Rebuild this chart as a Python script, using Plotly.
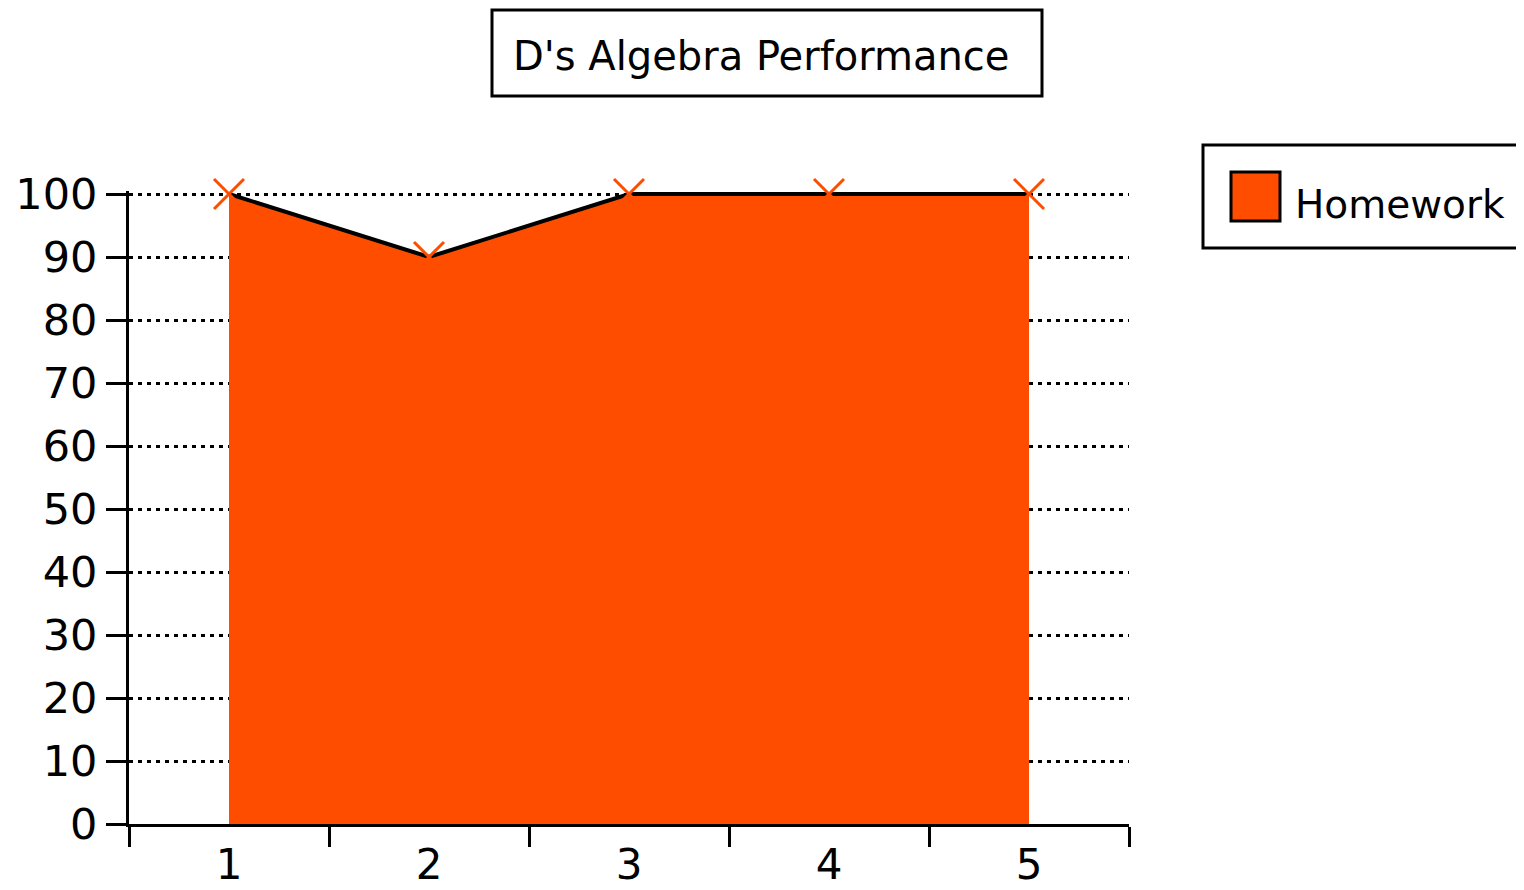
import plotly.graph_objects as go

categories = ["1", "2", "3", "4", "5"]
homework = [100, 90, 100, 100, 100]
series_name = "Homework"
title_text = "D's Algebra Performance"
y_ticks = [0, 10, 20, 30, 40, 50, 60, 70, 80, 90, 100]

FILL = "#FF4D00"
FONT = "DejaVu Sans"

fig = go.Figure()
fig.add_trace(go.Scatter(
    x=categories, y=homework, name=series_name,
    mode="lines+markers", fill="tozeroy", fillcolor=FILL,
    line=dict(color="black", width=4),
    marker=dict(symbol="x-thin", size=30, line=dict(color=FILL, width=3), color=FILL),
    cliponaxis=False, showlegend=False,
))

W, H = 1524, 890
OFF = 8  # page body margin
EXTRA = 3  # px of headroom above 100 so its gridline is drawn
L, R = 129 - OFF, 1129 - OFF
B = 824 - OFF
T = 194 - OFF - EXTRA
Y_TOP = 100 * (B - T) / (B - T - EXTRA)

def px(x):
    return (x - OFF - L) / (R - L)

def py(y):
    return (B - (y - OFF)) / (B - T)

shapes = [
    dict(type="rect", xref="paper", yref="paper", x0=px(492), x1=px(1042), y0=py(96), y1=py(10),
         line=dict(color="black", width=3), fillcolor="white"),
    dict(type="rect", xref="paper", yref="paper", x0=px(1203), x1=px(1560), y0=py(248), y1=py(145),
         line=dict(color="black", width=3), fillcolor="white"),
    dict(type="rect", xref="paper", yref="paper", x0=px(1231), x1=px(1280), y0=py(221), y1=py(172),
         line=dict(color="black", width=3), fillcolor=FILL),
]

annotations = [
    dict(text=title_text, xref="paper", yref="paper", x=px(761), y=py(56), showarrow=False,
         xanchor="center", yanchor="middle", font=dict(family=FONT, size=40, color="black")),
    dict(text=series_name, xref="paper", yref="paper", x=px(1293), y=py(205), showarrow=False,
         xanchor="left", yanchor="middle", font=dict(family=FONT, size=39, color="black")),
]

fig.update_layout(
    width=W, height=H,
    margin=dict(l=L, r=W - R, t=T, b=H - B, autoexpand=False),
    paper_bgcolor="white", plot_bgcolor="white",
    shapes=shapes, annotations=annotations,
    font=dict(family=FONT, size=43, color="black"),
    xaxis=dict(
        type="category", categoryorder="array", categoryarray=categories,
        range=[-0.5, 4.5], tickson="boundaries", ticks="outside", ticklen=20, tickwidth=3,
        tickcolor="black", showline=True, linecolor="black", linewidth=3,
        showgrid=False, zeroline=False, tickfont=dict(family=FONT, size=42),
        ticklabelstandoff=2,
    ),
    yaxis=dict(
        range=[0, Y_TOP], tickvals=y_ticks, ticks="outside", ticklen=20, tickwidth=3,
        tickcolor="black", showline=True, linecolor="black", linewidth=3,
        showgrid=True, gridcolor="black", gridwidth=3, griddash="4px,5px",
        zeroline=False, tickfont=dict(family=FONT, size=43),
    ),
)

fig.write_html("out.html")
